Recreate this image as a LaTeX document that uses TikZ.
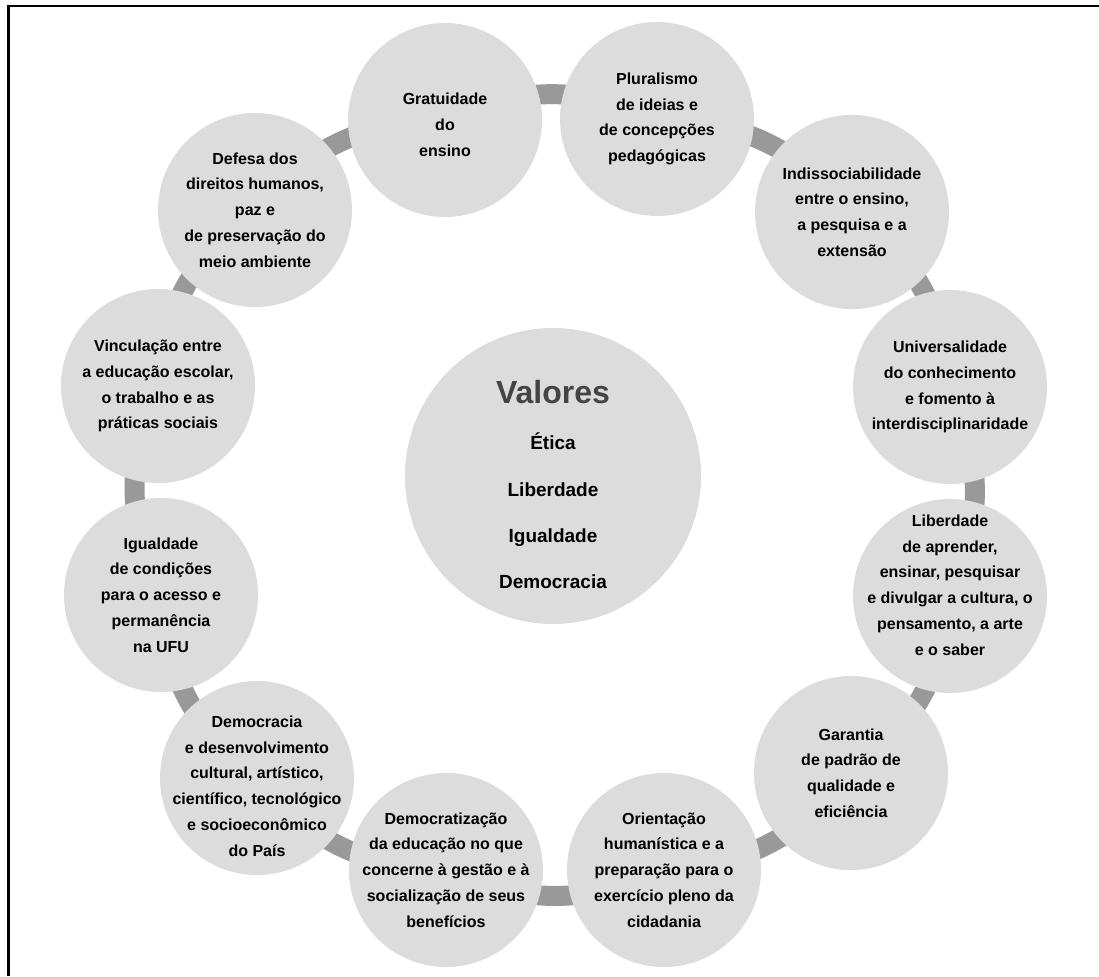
\documentclass[tikz,border=0pt]{standalone}
\usepackage{fontspec}
\setmainfont{Liberation Sans}
\pgfdeclarelayer{background}
\pgfsetlayers{background,main}
\definecolor{disc}{HTML}{DCDCDC}
\definecolor{barcol}{HTML}{999999}
\definecolor{titlecol}{HTML}{444444}
\begin{document}
\begin{tikzpicture}[x=1pt,y=-1pt,
  disk/.style={circle, fill=disc, minimum size=194pt, inner sep=0pt},
  ptext/.style={align=center, text=black, inner sep=0pt,
    font=\fontsize{16}{25.8}\selectfont\bfseries},
  hub/.style={circle, fill=disc, minimum size=296pt, inner sep=0pt},
  link/.style={draw=barcol, line width=20pt, bend left=24},
  valueword/.style={anchor=base, text=black,
    font=\fontsize{19}{19}\selectfont\bfseries},
]
\useasboundingbox (0,0) rectangle (1099,976);

% frame
\draw[line width=2.5pt] (8.5,976) -- (8.5,6) -- (1099,6);

% central circle with the values
\node[hub] (hub) at (553,476) {};
\node[anchor=base, text=titlecol, font=\fontsize{32}{32}\selectfont\bfseries]
  (valores) at (553,403) {Valores};
\node[valueword] (etica) at (553,449) {Ética};
\node[valueword] (liberdadev) at (553,496) {Liberdade};
\node[valueword] (igualdadev) at (553,542) {Igualdade};
\node[valueword] (democraciav) at (553,588) {Democracia};

% principle discs around the ring
\node[disk] (p1) at (445,120) {};
\node[disk] (p2) at (657,119) {};
\node[disk] (p3) at (852,212) {};
\node[disk] (p4) at (950,387) {};
\node[disk] (p5) at (950,596) {};
\node[disk] (p6) at (851,773) {};
\node[disk] (p7) at (664,870) {};
\node[disk] (p8) at (446,870) {};
\node[disk] (p9) at (257,778) {};
\node[disk] (p10) at (161,595) {};
\node[disk] (p11) at (158,386) {};
\node[disk] (p12) at (255,210) {};

% principle texts
\node[ptext, yshift=-5pt] (t1) at (p1) {Gratuidade\\do\\ensino};
\node[ptext] (t2) at (p2) {Pluralismo\\de ideias e\\de concepções\\pedagógicas};
\node[ptext] (t3) at (p3) {Indissociabilidade\\entre o ensino,\\a pesquisa e a\\extensão};
\node[ptext] (t4) at (p4) {Universalidade\\do conhecimento\\e fomento à\\interdisciplinaridade};
\node[ptext, yshift=11pt] (t5) at (p5) {Liberdade\\de aprender,\\ensinar, pesquisar\\e divulgar a cultura, o\\pensamento, a arte\\e o saber};
\node[ptext] (t6) at (p6) {Garantia\\de padrão de\\qualidade e\\eficiência};
\node[ptext] (t7) at (p7) {Orientação\\humanística e a\\preparação para o\\exercício pleno da\\cidadania};
\node[ptext] (t8) at (p8) {Democratização\\da educação no que\\concerne à gestão e à\\socialização de seus\\benefícios};
\node[ptext, yshift=-8pt] (t9) at (p9) {Democracia\\e desenvolvimento\\cultural, artístico,\\científico, tecnológico\\e socioeconômico\\do País};
\node[ptext] (t10) at (p10) {Igualdade\\de condições\\para o acesso e\\permanência\\na UFU};
\node[ptext] (t11) at (p11) {Vinculação entre\\a educação escolar,\\o trabalho e as\\práticas sociais};
\node[ptext] (t12) at (p12) {Defesa dos\\direitos humanos,\\paz e\\de preservação do\\meio ambiente};

% ring segments joining neighbouring principles
\begin{pgfonlayer}{background}
\foreach \a/\b in {p1/p2,p2/p3,p3/p4,p4/p5,p5/p6,p6/p7,p7/p8,p8/p9,p9/p10,p10/p11,p11/p12,p12/p1}
  \draw[link] (\a.center) to (\b.center);
\end{pgfonlayer}
\end{tikzpicture}
\end{document}
